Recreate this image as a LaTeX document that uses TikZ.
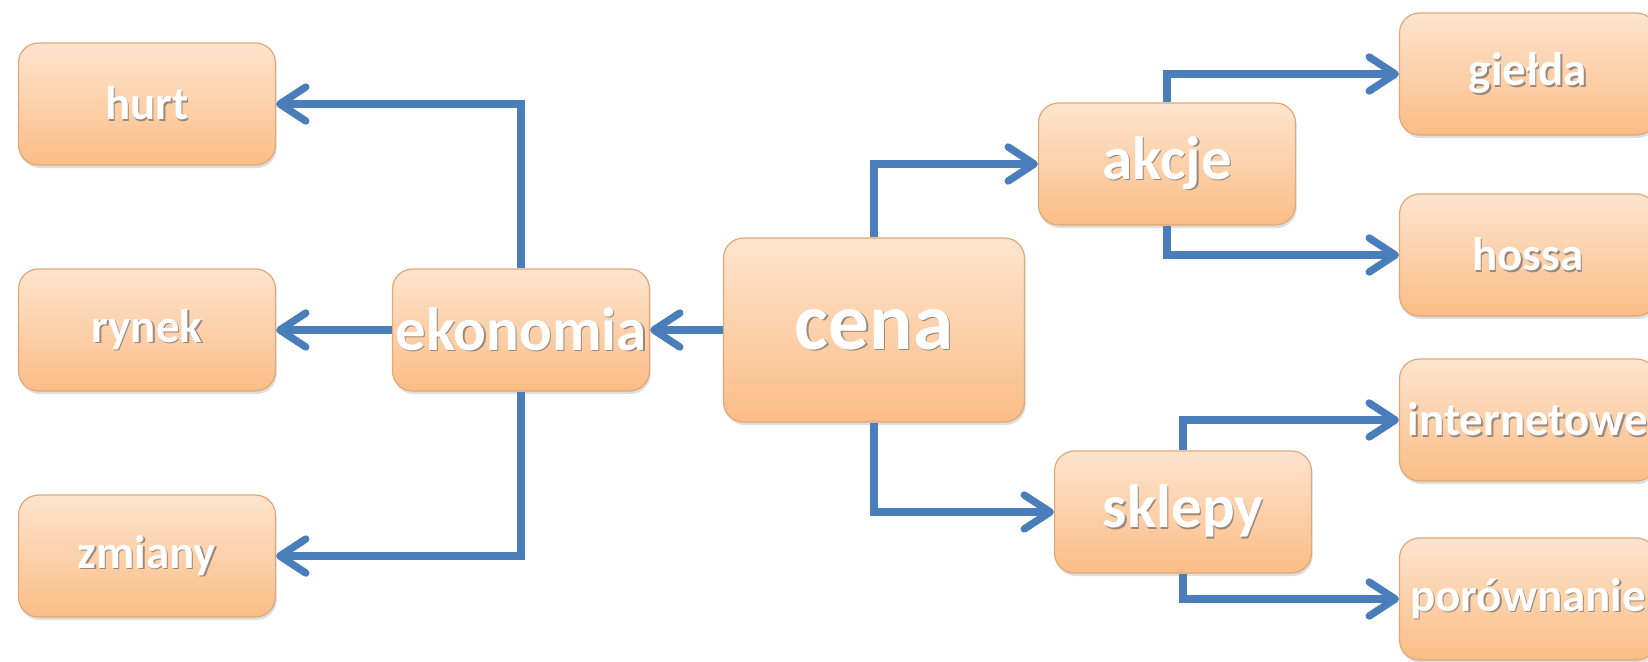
\documentclass[tikz,border=0pt]{standalone}
\usepackage{fontspec}
\setmainfont{Carlito}
\usetikzlibrary{arrows.meta}
\usetikzlibrary{shadows}

\definecolor{boxtop}{HTML}{FDE4CE}
\definecolor{boxbot}{HTML}{FBBD86}
\definecolor{boxline}{HTML}{DFA878}
\definecolor{linkblue}{HTML}{4A7EBB}
\definecolor{textshade}{HTML}{9C8878}

% white label with a small grey shadow
\newcommand\shlabel[1]{\makebox[0pt][l]{\hspace{.7pt}\raisebox{-.7pt}{\textcolor{textshade}{#1}}}#1}

\tikzset{
 box/.style={rectangle, rounded corners=10pt, draw=boxline, line width=.6pt,
   top color=boxtop, bottom color=boxbot, minimum width=128.5pt, minimum height=61pt,
   inner sep=0pt, text=white, font=\bfseries\fontsize{23.5}{23.5}\selectfont,
   drop shadow={shadow xshift=.6pt, shadow yshift=-1.5pt, opacity=.25}},
 mid/.style={font=\bfseries\fontsize{30.5}{30.5}\selectfont},
 link/.style={linkblue, line width=3.7pt, -{Straight Barb[length=13pt,width=17pt,round]}},
}

\begin{document}
\begin{tikzpicture}[x=.5pt, y=-.5pt]
\useasboundingbox (0,0) rectangle (1648,661);
% centre
\node[box, minimum width=150.5pt, minimum height=92pt, font=\bfseries\fontsize{40.5}{40.5}\selectfont] (cena) at (874,330) {\shlabel{cena}};
\node[box, mid] (ekonomia) at (521,330) {\shlabel{ekonomia}};
\node[box, mid] (akcje) at (1167,164) {\shlabel{akcje}};
\node[box, mid] (sklepy) at (1183,512) {\shlabel{sklepy}};
% left column
\foreach \n/\y in {hurt/104, rynek/330, zmiany/556}
 \node[box] (\n) at (147,\y) {\shlabel{\n}};
% right column
\foreach \n/\t/\y in {gielda/giełda/74, hossa/hossa/255, internet/internetowe/420, porown/porównanie/599}
 \node[box] (\n) at (1528,\y) {\shlabel{\t}};

\draw[link] (cena) -- (ekonomia);
\draw[link] (ekonomia) -- (rynek);
\draw[link] (ekonomia.north) |- (hurt);
\draw[link] (ekonomia.south) |- (zmiany);
\draw[link] (cena.north) |- (akcje);
\draw[link] (cena.south) |- (sklepy);
\foreach \a/\b/\c in {akcje/gielda/hossa, sklepy/internet/porown} {
 \draw[link] (\a.north) |- (\b);
 \draw[link] (\a.south) |- (\c);
}
\end{tikzpicture}
\end{document}
